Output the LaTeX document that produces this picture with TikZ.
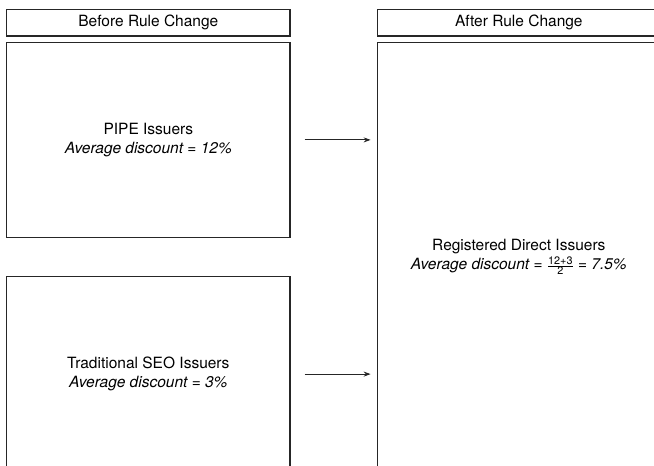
\documentclass[tikz,border=0pt]{standalone}
\usepackage{amsmath}
\usepackage{fontspec}
\setmainfont{TeX Gyre Heros}
\usetikzlibrary{arrows.meta}

\begin{document}
\begin{tikzpicture}
[every node/.style={inner sep=0pt}]
\clip (0pt, 0pt) rectangle (654pt, -466pt);
\fontsize{15.5pt}{19.5pt}\selectfont
\node (before) [rectangle, minimum width=283.3pt, minimum height=26.7pt, line width=1.1pt, draw=black!85] at (148.35pt, -22.65pt) {Before Rule Change};
\node (after) [rectangle, minimum width=283.3pt, minimum height=26.7pt, line width=1.1pt, draw=black!85] at (518.85pt, -22.65pt) {After Rule Change};
\node (pipe) [rectangle, minimum width=283.3pt, minimum height=194.8pt, line width=1.1pt, draw=black!85, align=center] at (148.35pt, -139.9pt) {PIPE Issuers\\\textit{Average discount = 12\%}};
\node (seo) [rectangle, minimum width=283.3pt, minimum height=194.8pt, line width=1.1pt, draw=black!85, align=center] at (148.35pt, -374.1pt) {Traditional SEO Issuers\\\textit{Average discount = 3\%}};
\node (rd) [rectangle, minimum width=283.3pt, minimum height=429pt, line width=1.1pt, draw=black!85, align=center] at (518.85pt, -257pt) {Registered Direct Issuers\\\textit{Average discount =} $\frac{\text{\upshape 12+3}}{\text{\upshape 2}}$ \textit{= 7.5\%}};
\draw [line width=1.1pt, -{Stealth[length=7pt, width=5pt]}, color=black!85, shorten <=14pt, shorten >=6pt] (pipe.east) -- (pipe.east -| rd.west);
\draw [line width=1.1pt, -{Stealth[length=7pt, width=5pt]}, color=black!85, shorten <=14pt, shorten >=6pt] (seo.east) -- (seo.east -| rd.west);
\end{tikzpicture}
\end{document}
